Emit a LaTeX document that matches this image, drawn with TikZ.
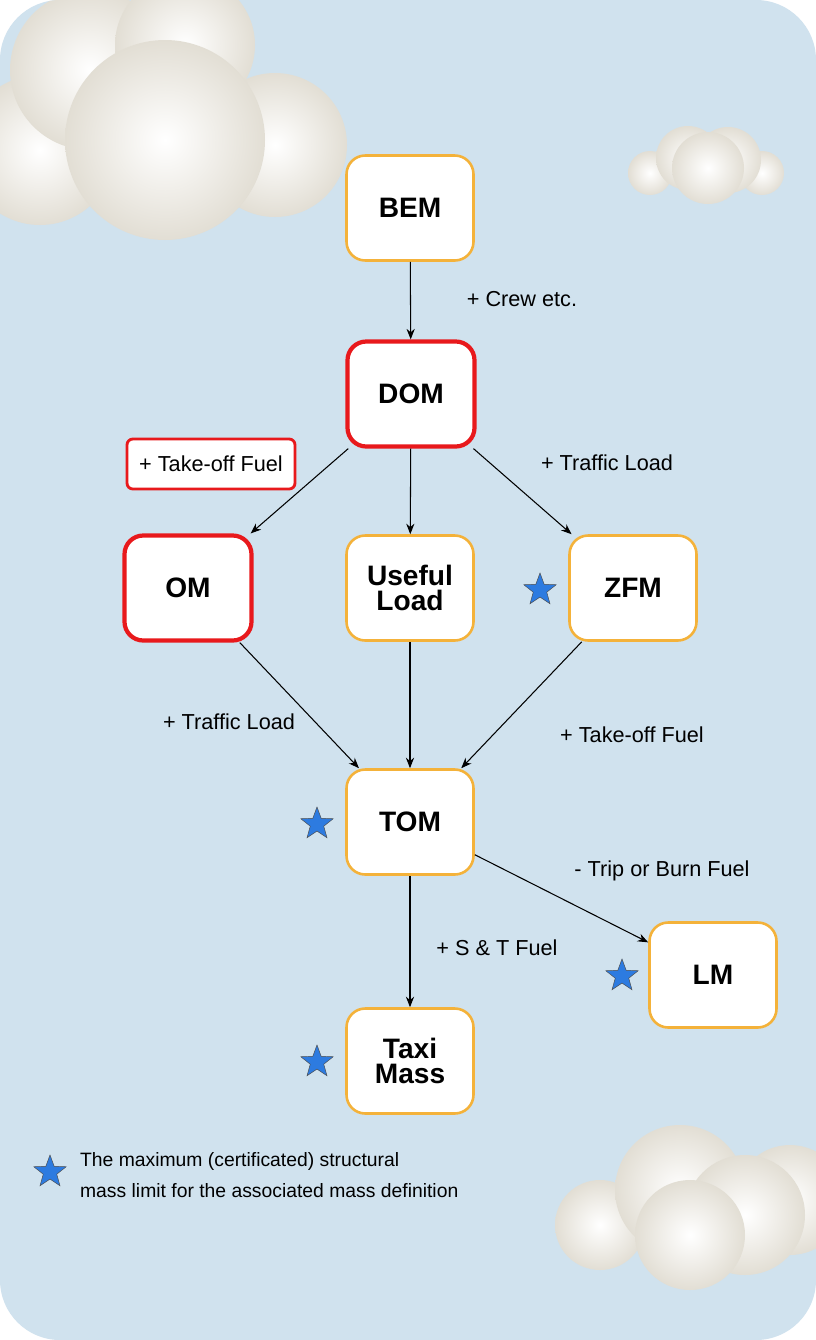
\documentclass[tikz,border=0pt]{standalone}
\usepackage{fontspec}
\setmainfont{Liberation Sans}
\usetikzlibrary{shapes.geometric,arrows.meta}
\definecolor{bg}{HTML}{D0E2EE}
\definecolor{og}{HTML}{F4B23A}
\definecolor{rd}{HTML}{E8191C}
\definecolor{st}{HTML}{2D7BE0}
\definecolor{cs}{HTML}{E2DED4}
\begin{document}
\begin{tikzpicture}[x=0.03cm,y=-0.03cm,
 box/.style={draw=og,line width=2.2pt,fill=white,rounded corners=16pt,minimum width=127*0.03cm,minimum height=105*0.03cm,align=center,font=\fontsize{24}{24}\selectfont\bfseries,inner sep=0pt},
 rbox/.style={box,draw=rd,line width=3.6pt},
 arr/.style={-{Stealth[length=9pt,width=7pt]},line width=0.9pt},
 lab/.style={font=\fontsize{18.5}{18.5}\selectfont},
 mstar/.style={star,star points=5,star point ratio=2.4,fill=st,draw=black!70,line width=0.4pt,minimum size=34*0.03cm,inner sep=0pt},
 cl/.style={inner color=white,outer color=cs}]
\useasboundingbox (0,0) rectangle (816,1340);
\fill[white] (0,0) rectangle (816,1340);
\fill[bg,rounded corners=60*0.03cm] (0,0) rectangle (816,1340);
\begin{scope}
\clip[rounded corners=60*0.03cm] (0,0) rectangle (816,1340);
\shade[cl] (275,145) circle (72);
\shade[cl] (40,150) circle (75);
\shade[cl] (90,70) circle (80);
\shade[cl] (185,45) circle (70);
\shade[cl] (165,140) circle (100);
\shade[cl] (650,173) circle (22);
\shade[cl] (762,173) circle (22);
\shade[cl] (688,158) circle (32);
\shade[cl] (728,160) circle (33);
\shade[cl] (708,168) circle (36);
\shade[cl] (600,1225) circle (45);
\shade[cl] (790,1200) circle (55);
\shade[cl] (680,1190) circle (65);
\shade[cl] (745,1215) circle (60);
\shade[cl] (690,1235) circle (55);
\end{scope}
\node[box] (BEM) at (410,208) {BEM};
\node[rbox] (DOM) at (411,394) {DOM};
\node[rbox] (OM) at (188,588) {OM};
\node[box] (UL) at (410,588) {Useful\\[-2pt]Load};
\node[box] (ZFM) at (633,588) {ZFM};
\node[box] (TOM) at (410,822) {TOM};
\node[box] (LM) at (713,975) {LM};
\node[box] (TM) at (410,1061) {Taxi\\[-2pt]Mass};
\draw[arr] (BEM) -- (DOM);
\draw[arr] (DOM) -- (OM);
\draw[arr] (DOM) -- (UL);
\draw[arr] (DOM) -- (ZFM);
\draw[arr] (OM) -- (TOM);
\draw[arr] (UL) -- (TOM);
\draw[arr] (ZFM) -- (TOM);
\draw[arr] (TOM) -- (LM);
\draw[arr] (TOM) -- (TM);
\node[lab,draw=rd,line width=2.4pt,rounded corners=5pt,fill=white,minimum width=168*0.03cm,minimum height=50*0.03cm] (TF) at (211,464) {+ Take-off Fuel};
\node[lab] (l1) at (522,299) {+ Crew etc.};
\node[lab] (l2) at (607,463) {+ Traffic Load};
\node[lab] (l3) at (229,722) {+ Traffic Load};
\node[lab] (l4) at (632,735) {+ Take-off Fuel};
\node[lab] (l5) at (662,871) {- Trip or Burn Fuel};
\node[lab] (l6) at (497,948) {+ S \& T Fuel};
\node[mstar] (s1) at (540,590) {};
\node[mstar] (s2) at (317,824) {};
\node[mstar] (s3) at (622,976) {};
\node[mstar] (s4) at (317,1062) {};
\node[mstar] (s5) at (50,1172) {};
\node[font=\fontsize{16.5}{16.5}\selectfont,anchor=west,align=left] (leg) at (76,1175) {The maximum (certificated) structural\\[10pt]mass limit for the associated mass definition};
\end{tikzpicture}
\end{document}
